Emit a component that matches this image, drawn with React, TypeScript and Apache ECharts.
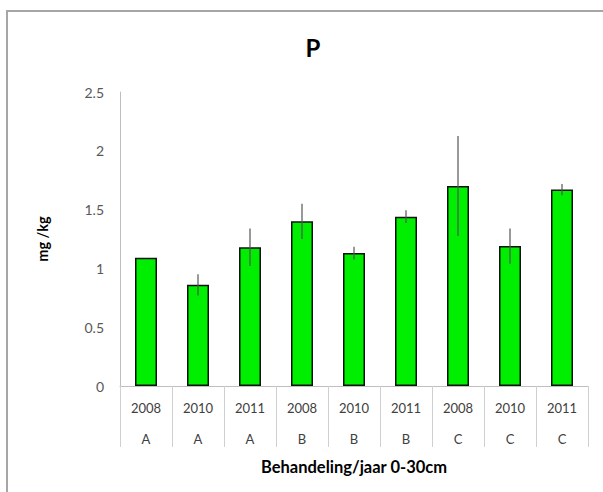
import React, { useEffect, useRef } from "react";
import * as echarts from "echarts";

const years = ["2008", "2010", "2011", "2008", "2010", "2011", "2008", "2010", "2011"];
const treatments = ["A", "A", "A", "B", "B", "B", "C", "C", "C"];
const values = [1.09, 0.86, 1.18, 1.4, 1.13, 1.44, 1.7, 1.19, 1.67];
const errors = [0, 0.09, 0.16, 0.15, 0.055, 0.055, 0.425, 0.15, 0.047];
const yTicks = [0, 0.5, 1, 1.5, 2, 2.5];

const FONT = "Lato, 'Liberation Sans', sans-serif";

export default function App() {
  const ref = useRef<HTMLDivElement>(null);
  useEffect(() => {
    if (!ref.current) return;
    const chart = echarts.init(ref.current, undefined, { renderer: "svg" });
    const categories = years.map((y, i) => `${y}\n${treatments[i]}`);
    chart.setOption({
      animation: false,
      backgroundColor: "#ffffff",
      title: {
        text: "P",
        left: 308,
        top: 30,
        textAlign: "center",
        textStyle: { fontFamily: FONT, fontSize: 24, fontWeight: "bold", color: "#000" },
      },
      graphic: [
        {
          type: "polyline",
          shape: { points: [[7, 492], [7, 11], [603, 11]] },
          style: { stroke: "#a6a6a6", lineWidth: 2, fill: "none" },
          silent: true,
        },
      ],
      grid: { left: 120, right: 15, top: 92, bottom: 106 },
      xAxis: {
        type: "category",
        data: categories,
        boundaryGap: true,
        axisLine: { lineStyle: { color: "#bfbfbf", width: 1 } },
        axisTick: { show: true, length: 61, alignWithLabel: false, lineStyle: { color: "#d0d0d0" } },
        axisLabel: {
          interval: 0,
          margin: 6,
          fontFamily: FONT,
          fontSize: 13,
          color: "#404040",
          lineHeight: 31,
        },
        name: "Behandeling/jaar 0-30cm",
        nameLocation: "middle",
        nameGap: 69,
        nameTextStyle: { fontFamily: FONT, fontSize: 16.5, fontWeight: "bold", color: "#000" },
      },
      yAxis: {
        type: "value",
        min: yTicks[0],
        max: yTicks[yTicks.length - 1],
        interval: 0.5,
        splitLine: { show: false },
        axisLine: { show: true, lineStyle: { color: "#bfbfbf", width: 1 } },
        axisTick: { show: false },
        axisLabel: {
          margin: 16,
          fontFamily: FONT,
          fontSize: 14,
          color: "#595959",
          formatter: (v: number) => String(v),
        },
        name: "mg /kg",
        nameLocation: "middle",
        nameGap: 70,
        nameRotate: 90,
        nameTextStyle: { fontFamily: FONT, fontSize: 14.5, fontWeight: "bold", color: "#000" },
      },
      series: [
        {
          type: "bar",
          data: values,
          barWidth: 22,
          itemStyle: { color: "#00ee00", borderColor: "#111", borderWidth: 1.5 },
          z: 2,
        },
        {
          type: "custom",
          z: 3,
          data: values.map((v, i) => [i, v - errors[i], v + errors[i]]),
          renderItem: (params: any, api: any) => {
            const x = api.value(0);
            const lo = api.coord([x, api.value(1)]);
            const hi = api.coord([x, api.value(2)]);
            return {
              type: "line",
              shape: { x1: lo[0], y1: lo[1], x2: hi[0], y2: hi[1] },
              style: { stroke: "#555", lineWidth: 1.2 },
            };
          },
        },
      ],
    });
    return () => chart.dispose();
  }, []);
  return (
    <div
      ref={ref}
      style={{ position: "fixed", left: 0, top: 0, width: 603, height: 492 }}
    />
  );
}
